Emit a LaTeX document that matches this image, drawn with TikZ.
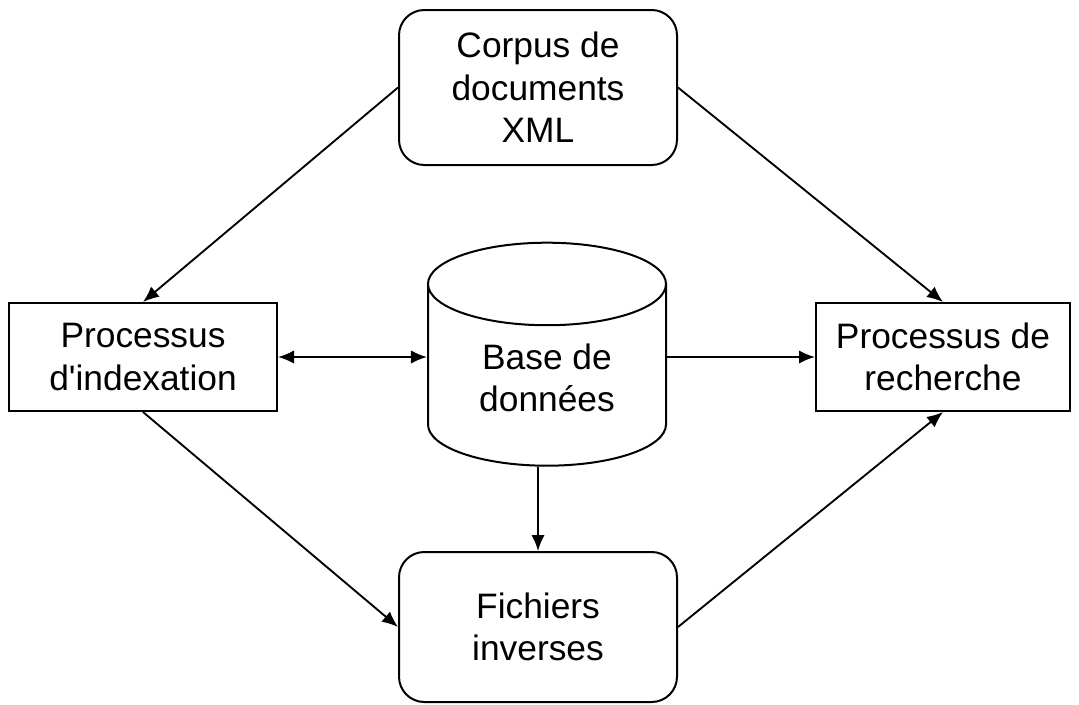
\documentclass[tikz,border=0pt]{standalone}
\usepackage{fontspec}
\setmainfont{Liberation Sans}
\usetikzlibrary{shapes.geometric,arrows.meta}

\tikzset{every picture/.style={line width=0.75pt}}
\tikzset{
  boite/.style={draw, line width=1.5pt, align=center, inner sep=0.75pt,
    font=\fontsize{26.5}{32}\selectfont},
  arrondi/.style={boite, rounded corners=19pt},
  fleche/.style={line width=1.4pt, -{Latex[length=12pt,width=10pt]}},
}

\begin{document}
\begin{tikzpicture}[x=0.75pt,y=0.75pt,yscale=-1,xscale=1]
        \useasboundingbox (0,0) rectangle (1079,704);

        %Shape: Rounded Rect [id:corpus]
        \node (corpus) at (538,87.5) [arrondi, minimum width=208.5pt, minimum height=116.25pt] {Corpus de\\documents\\XML};
        %Shape: Rectangle [id:index]
        \node (index) at (143,357) [boite, minimum width=201pt, minimum height=81pt] {Processus\\d\textquotesingle indexation};
        %Shape: Rectangle [id:recherche]
        \node (recherche) at (943,357) [boite, minimum width=190.5pt, minimum height=81pt] {Processus de\\recherche};
        %Shape: Can [id:base]
        \node (base) at (547,378) [boite, cylinder, shape border rotate=90, aspect=0.6, minimum width=178.5pt, minimum height=167.25pt] {Base de\\données};
        %Shape: Rounded Rect [id:fichiers]
        \node (fichiers) at (538,627) [arrondi, minimum width=208.5pt, minimum height=112.5pt] {Fichiers\\inverses};

        %Straight Lines
        \draw [fleche] (corpus.west) -- (index.north);
        \draw [fleche] (corpus.east) -- (recherche.north);
        \draw [fleche, {Latex[length=12pt,width=10pt]}-{Latex[length=12pt,width=10pt]}] (index.east) -- (index.east -| base.west);
        \draw [fleche] (recherche.west -| base.east) -- (recherche.west);
        \draw [fleche] (base.south -| fichiers.north) -- (fichiers.north);
        \draw [fleche] (index.south) -- (fichiers.west);
        \draw [fleche] (fichiers.east) -- (recherche.south);

\end{tikzpicture}
\end{document}
